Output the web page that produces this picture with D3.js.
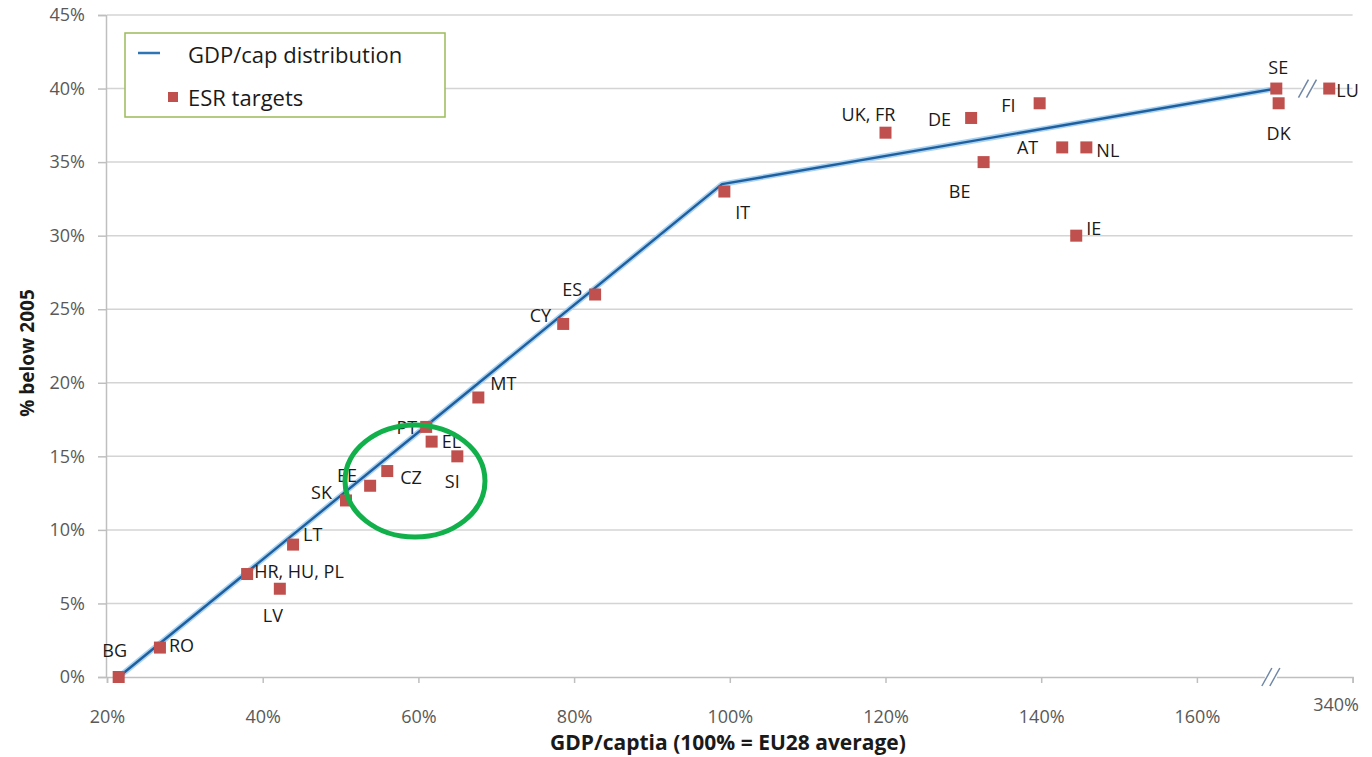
<!DOCTYPE html>
<html>
<head>
<meta charset="utf-8">
<script src="https://cdn.jsdelivr.net/npm/d3@7"></script>
<style>
  body { margin: 0; background: #fff; }
  text { font-family: "Open Sans", sans-serif; }
</style>
</head>
<body>
<svg id="chart" width="1372" height="757"></svg>
<script>
// ESR targets vs GDP per capita
const countries = ["BG", "RO", "HR, HU, PL", "LV", "LT", "SK", "EE", "CZ", "PT", "EL", "SI", "MT", "CY", "ES", "IT",
    "UK, FR", "DE", "BE", "FI", "AT", "NL", "IE", "SE", "DK", "LU"];
// GDP/cap in axis units (LU sits past the axis break)
const gdp = [21.5, 26.8, 38, 42.2, 43.9, 50.7, 53.8, 56, 61, 61.7, 65, 67.7, 78.6, 82.7, 99.3,
    120, 131, 132.6, 139.8, 142.7, 145.8, 144.5, 170.2, 170.5, 177];
const target = [0, 2, 7, 6, 9, 12, 13, 14, 17, 16, 15, 19, 24, 26, 33,
    37, 38, 35, 39, 36, 36, 30, 40, 39, 40];

// GDP/cap distribution line
const distGdp = [21.5, 99, 170.2];
const distTarget = [0, 33.5, 40];

const xTicks = [20, 40, 60, 80, 100, 120, 140, 160, 180];
const xTickLabels = ["20%", "40%", "60%", "80%", "100%", "120%", "140%", "160%", "340%"];
const yTicks = [0, 5, 10, 15, 20, 25, 30, 35, 40, 45];

// label placement: [anchor, dx, dy]
const labelPos = {
    "BG": ["middle", -4, -27], "RO": ["start", 9, -3], "HR, HU, PL": ["start", 7, -3],
    "LV": ["middle", -7, 26], "LT": ["start", 10, -11], "SK": ["end", -14, -8],
    "EE": ["end", -13, -11], "CZ": ["start", 13, 6], "PT": ["end", -9, 0],
    "EL": ["start", 10, -1], "SI": ["middle", -5, 25], "MT": ["start", 12, -14],
    "CY": ["end", -12, -9], "ES": ["end", -13, -6], "IT": ["start", 11, 20],
    "UK, FR": ["middle", -17, -19], "DE": ["end", -20, 1], "BE": ["middle", -24, 29],
    "FI": ["end", -24, 2], "AT": ["end", -24, 0], "NL": ["start", 10, 3],
    "IE": ["start", 10, -8], "SE": ["middle", 2, -22], "DK": ["middle", 0, 30],
    "LU": ["start", 7, 1]
};

const svg = d3.select("#chart");

const x = d3.scaleLinear().domain([20, 180]).range([107, 1352.6]);
const y = d3.scaleLinear().domain([0, 45]).range([677, 15]);

// horizontal gridlines
svg.append("g")
    .selectAll("line")
    .data(yTicks.slice(1))
    .join("line")
    .attr("x1", x(20))
    .attr("x2", x(180))
    .attr("y1", d => y(d))
    .attr("y2", d => y(d))
    .attr("stroke", "#d4d4d4")
    .attr("stroke-width", 1.5);

// y axis
const yAxis = svg.append("g")
    .attr("transform", `translate(${x(20) - 1},0)`)
    .call(d3.axisLeft(y).tickValues(yTicks).tickFormat(d => d + "%").tickSize(8).tickPadding(13));
yAxis.select(".domain").attr("stroke", "#bfbfbf").attr("stroke-width", 1.5);
yAxis.selectAll(".tick line").attr("stroke", "#bfbfbf").attr("stroke-width", 1.5);
yAxis.selectAll(".tick text").attr("fill", "#595959").style("font-size", "18px")
    .style("font-family", "Open Sans, sans-serif");

// x axis
const xAxis = svg.append("g")
    .attr("transform", `translate(0,${y(0)})`)
    .call(d3.axisBottom(x).tickValues(xTicks).tickFormat((d, i) => xTickLabels[i]).tickSize(6).tickPadding(27));
xAxis.select(".domain").attr("stroke", "#bfbfbf").attr("stroke-width", 1.5);
xAxis.selectAll(".tick line").attr("stroke", "#bfbfbf").attr("stroke-width", 1.5);
xAxis.selectAll(".tick text").attr("fill", "#595959").style("font-size", "18px")
    .style("font-family", "Open Sans, sans-serif");
xAxis.selectAll(".tick").filter(d => d === 180).select("text").attr("dx", -17).attr("dy", "0.05em");

// axis break marks
function breakMark(cx, cy) {
    const g = svg.append("g").attr("transform", `translate(${cx},${cy})`);
    g.append("rect").attr("x", -6).attr("y", -4).attr("width", 12).attr("height", 8).attr("fill", "#fff");
    [-4, 4].forEach(o => {
        g.append("line")
            .attr("x1", o - 5).attr("y1", 9)
            .attr("x2", o + 5).attr("y2", -9)
            .attr("stroke", "#6f86a6").attr("stroke-width", 1.5);
    });
}
breakMark(x(169.5), y(0));
breakMark(x(174.2), y(40));

// distribution line
const lineGen = d3.line().x(d => x(d[0])).y(d => y(d[1]));
const distData = d3.zip(distGdp, distTarget);
svg.append("path")
    .datum(distData)
    .attr("d", lineGen)
    .attr("fill", "none")
    .attr("stroke", "#a9d2f0")
    .attr("stroke-width", 5.5)
    .attr("stroke-linejoin", "round");
svg.append("path")
    .datum(distData)
    .attr("d", lineGen)
    .attr("fill", "none")
    .attr("stroke", "#1f5f9e")
    .attr("stroke-width", 2.4)
    .attr("stroke-linejoin", "round");

// ESR target markers
const pts = countries.map((c, i) => ({ name: c, gx: gdp[i], ty: target[i] }));
svg.append("g")
    .selectAll("rect")
    .data(pts)
    .join("rect")
    .attr("x", d => x(d.gx) - 6)
    .attr("y", d => y(d.ty) - 6)
    .attr("width", 12)
    .attr("height", 12)
    .attr("fill", "#c0504d");

svg.append("g")
    .selectAll("text")
    .data(pts)
    .join("text")
    .attr("x", d => x(d.gx) + labelPos[d.name][1])
    .attr("y", d => y(d.ty) + labelPos[d.name][2])
    .attr("text-anchor", d => labelPos[d.name][0])
    .attr("dominant-baseline", "central")
    .attr("fill", "#1a1a1a")
    .style("font-size", "18px")
    .text(d => d.name);

// green highlight ellipse
svg.append("ellipse")
    .attr("cx", 415)
    .attr("cy", 481)
    .attr("rx", 70)
    .attr("ry", 56)
    .attr("fill", "none")
    .attr("stroke", "#11b04b")
    .attr("stroke-width", 5);

// legend
const legend = svg.append("g").attr("transform", "translate(125,33)");
legend.append("rect")
    .attr("width", 320).attr("height", 84)
    .attr("fill", "#fff")
    .attr("stroke", "#9bbb59").attr("stroke-width", 1.5);
legend.append("line")
    .attr("x1", 13).attr("x2", 35).attr("y1", 20).attr("y2", 20)
    .attr("stroke", "#2e75b6").attr("stroke-width", 2.5);
legend.append("text")
    .attr("x", 63).attr("y", 21)
    .attr("dominant-baseline", "central")
    .attr("fill", "#1a1a1a")
    .style("font-size", "22px")
    .text("GDP/cap distribution");
legend.append("rect")
    .attr("x", 43).attr("y", 59).attr("width", 10).attr("height", 10)
    .attr("fill", "#c0504d");
legend.append("text")
    .attr("x", 63).attr("y", 64)
    .attr("dominant-baseline", "central")
    .attr("fill", "#1a1a1a")
    .style("font-size", "22px")
    .text("ESR targets");

// axis titles
svg.append("text")
    .attr("transform", "translate(27,353) rotate(-90)")
    .attr("text-anchor", "middle")
    .attr("dominant-baseline", "central")
    .attr("fill", "#1a1a1a")
    .style("font-size", "19px")
    .style("font-weight", "bold")
    .text("% below 2005");
svg.append("text")
    .attr("x", 728)
    .attr("y", 742)
    .attr("text-anchor", "middle")
    .attr("dominant-baseline", "central")
    .attr("fill", "#1a1a1a")
    .style("font-size", "21px")
    .style("font-weight", "bold")
    .text("GDP/captia (100% = EU28 average)");
</script>
</body>
</html>
